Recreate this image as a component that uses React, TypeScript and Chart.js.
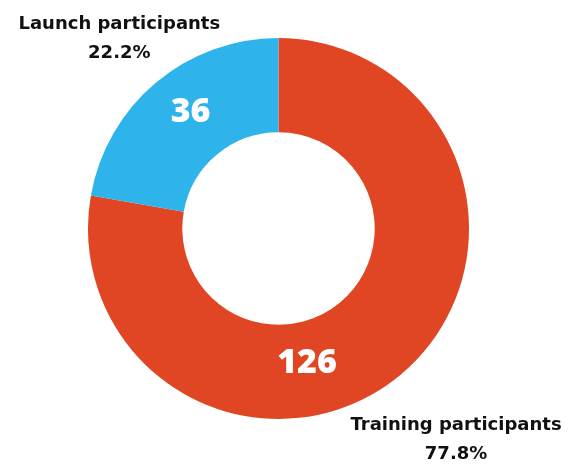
import React, { useEffect, useRef } from "react";
import { Chart, registerables } from "chart.js";

Chart.register(...registerables);

const categories = ["Training participants", "Launch participants"];
const values = [126, 36];
const colors = ["#E04524", "#2EB3EA"];
// fraction along each arc where its value label sits
const valueLabelAt = [0.6, 0.535];
// outside label distance as a multiple of the outer radius
const outerLabelAt = [1.45, 1.3];

const LABEL_FONT = "'DejaVu Sans', 'Open Sans', sans-serif";
const NUM_FONT = "'Open Sans', 'DejaVu Sans', sans-serif";

const labelPlugin = {
  id: "sliceLabels",
  afterDatasetsDraw(chart: any) {
    const ctx = chart.ctx;
    const meta = chart.getDatasetMeta(0);
    const total = values.reduce((a, b) => a + b, 0);
    ctx.save();
    ctx.textAlign = "center";
    ctx.textBaseline = "middle";
    meta.data.forEach((arc: any, i: number) => {
      const { x, y, startAngle, endAngle, innerRadius, outerRadius } = arc.getProps(
        ["x", "y", "startAngle", "endAngle", "innerRadius", "outerRadius"],
        true
      );
      const a = startAngle + (endAngle - startAngle) * valueLabelAt[i];
      const r = (innerRadius + outerRadius) / 2 - (i === 0 ? 6 : -2);
      ctx.fillStyle = "#ffffff";
      ctx.font = `800 34px ${NUM_FONT}`;
      ctx.fillText(String(values[i]), x + Math.cos(a) * r, y + Math.sin(a) * r);
      const m = (startAngle + endAngle) / 2;
      const ro = outerRadius * outerLabelAt[i];
      const lx = x + Math.cos(m) * ro;
      const ly = y + Math.sin(m) * ro;
      ctx.fillStyle = "#111111";
      ctx.font = `bold 18px ${LABEL_FONT}`;
      ctx.fillText(categories[i], lx, ly - 14.5);
      ctx.fillText(((values[i] / total) * 100).toFixed(1) + "%", lx, ly + 14.5);
    });
    ctx.restore();
  },
};

export default function App() {
  const ref = useRef<HTMLCanvasElement | null>(null);
  useEffect(() => {
    document.body.style.margin = "0";
    const chart = new Chart(ref.current as HTMLCanvasElement, {
      type: "doughnut",
      data: {
        labels: categories,
        datasets: [
          {
            data: values,
            backgroundColor: colors,
            borderWidth: 0,
          },
        ],
      },
      options: {
        animation: false,
        responsive: false,
        cutout: "50.5%",
        layout: { padding: { left: 88, right: 101, top: 38, bottom: 47 } },
        plugins: { legend: { display: false }, tooltip: { enabled: false } },
      },
      plugins: [labelPlugin],
    });
    return () => chart.destroy();
  }, []);
  return (
    <div style={{ width: 570, height: 466, background: "#fff" }}>
      <canvas ref={ref} width={570} height={466} />
    </div>
  );
}
